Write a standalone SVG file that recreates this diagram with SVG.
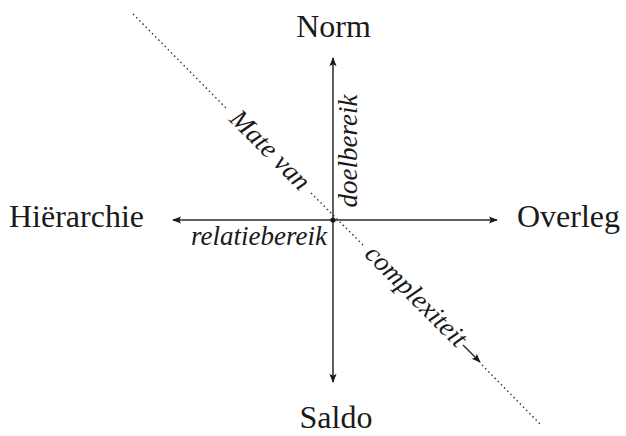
<svg xmlns="http://www.w3.org/2000/svg" width="626" height="436" viewBox="0 0 626 436">
<defs>
<style>
.lbl{font-family:"Liberation Serif","Times New Roman",serif;font-size:32px;fill:#1a1a1a}
.it{font-family:"Liberation Serif","Times New Roman",serif;font-style:italic;font-size:27px;fill:#1a1a1a}
.ax{stroke:#2a2a2a;stroke-width:1.5;fill:none}
.dot{stroke:#333;stroke-width:1.4;stroke-dasharray:1.5 3;fill:none}
</style>
<marker id="ah" viewBox="0 0 10 10" refX="9" refY="5" markerWidth="9" markerHeight="9" markerUnits="userSpaceOnUse" orient="auto">
<path d="M0,1 L10,5 L0,9 L2,5 Z" fill="#1a1a1a"/>
</marker>
</defs>
<g id="connectors">
<line class="ax" x1="333" y1="220" x2="333" y2="58" marker-end="url(#ah)"/>
<line class="ax" x1="333" y1="220" x2="333" y2="382" marker-end="url(#ah)"/>
<line class="ax" x1="333" y1="220" x2="173" y2="220" marker-end="url(#ah)"/>
<line class="ax" x1="333" y1="220" x2="497" y2="220" marker-end="url(#ah)"/>
<circle cx="333" cy="220" r="2.6" fill="#1a1a1a"/>
<line class="dot" x1="133" y1="14" x2="226" y2="108"/>
<line class="dot" x1="311" y1="193" x2="363" y2="245"/>
<line class="ax" x1="463" y1="345" x2="480" y2="362" marker-end="url(#ah)"/>
<line class="dot" x1="482" y1="365" x2="542" y2="426"/>
</g>
<g id="norm"><text class="lbl" x="333.5" y="37" text-anchor="middle">Norm</text></g>
<g id="saldo"><text class="lbl" x="336" y="428" text-anchor="middle">Saldo</text></g>
<g id="hierarchie"><text class="lbl" x="9" y="227">Hiërarchie</text></g>
<g id="overleg"><text class="lbl" x="517" y="227">Overleg</text></g>
<g id="doelbereik"><text class="it" transform="translate(357,151) rotate(-90)" text-anchor="middle">doelbereik</text></g>
<g id="relatiebereik"><text class="it" x="327" y="245" text-anchor="end">relatiebereik</text></g>
<g id="mate-van"><text class="it" transform="translate(269,151) rotate(45)" x="0" y="7" text-anchor="middle">Mate van</text></g>
<g id="complexiteit"><text class="it" transform="translate(415,297) rotate(45)" x="0" y="7" text-anchor="middle">complexiteit</text></g>
</svg>
